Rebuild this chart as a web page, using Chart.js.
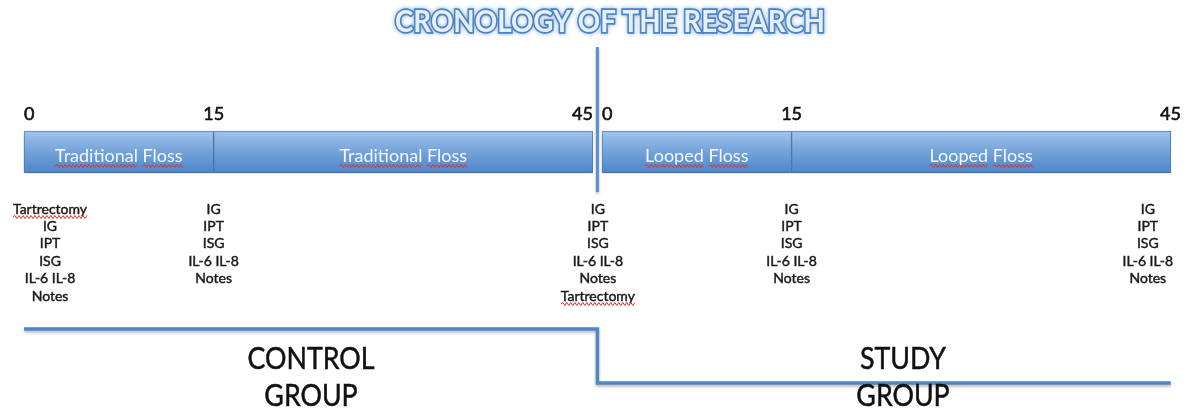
<!DOCTYPE html>
<html>
<head>
<meta charset="utf-8">
<title>Cronology of the research</title>
<script src="https://cdn.jsdelivr.net/npm/chart.js@4.4.1/dist/chart.umd.min.js"></script>
<style>
  html, body { margin: 0; padding: 0; background: #fff; }
  #wrap { width: 1187px; height: 412px; }
</style>
</head>
<body>
<div id="wrap"><canvas id="chronology" width="1187" height="412"></canvas></div>
<script>
// ---- data ----
const phaseStart = [0, 15];
const phaseEnd = [15, 45];
const controlPhases = ["Traditional Floss", "Traditional Floss"];
const studyPhases = ["Looped Floss", "Looped Floss"];
const tickDays = [0, 15, 45];
const controlChecks = [
    ["Tartrectomy", "IG", "IPT", "ISG", "IL-6 IL-8", "Notes"],
    ["IG", "IPT", "ISG", "IL-6 IL-8", "Notes"],
    ["IG", "IPT", "ISG", "IL-6 IL-8", "Notes", "Tartrectomy"],
];
const studyChecks = [
    [],
    ["IG", "IPT", "ISG", "IL-6 IL-8", "Notes"],
    ["IG", "IPT", "ISG", "IL-6 IL-8", "Notes"],
];
const groupNames = [["CONTROL", "GROUP"], ["STUDY", "GROUP"]];
const underlined = ["Traditional", "Floss", "Looped", "Tartrectomy"];
const title = "CRONOLOGY OF THE RESEARCH";

// ---- layout ----
const STUDY_SHIFT = 45.72;          // study timeline starts right after the divider
const DIV_X = (phaseEnd[1] + STUDY_SHIFT) / 2;
const BAR_Y = 152, BAR_H = 42;
const FONT = "Lato, 'Open Sans', sans-serif";
const checkNudge = [[26, 0, 5], [0, 0, -23]];   // px, keeps edge columns on the page
const tickNudge = [0, 10];
const groupX = [311, 903];

function phaseBars(names, shift) {
    return names.map((n, i) => ({ x: [phaseStart[i] + shift, phaseEnd[i] + shift], y: BAR_Y, label: n }));
}

function wavy(ctx, x0, x1, y) {
    ctx.save();
    ctx.strokeStyle = "#e0322b";
    ctx.lineWidth = 1;
    ctx.beginPath();
    ctx.moveTo(x0, y);
    let up = true;
    for (let x = x0 + 2; x <= x1; x += 2) {
        ctx.lineTo(x, y + (up ? -1.5 : 1.5));
        up = !up;
    }
    ctx.stroke();
    ctx.restore();
}

// slightly heavier text, like the mac rendering of the original
function heavyText(ctx, text, x, y, weight) {
    ctx.fillText(text, x, y);
    if (weight) {
        ctx.lineWidth = weight;
        ctx.strokeStyle = ctx.fillStyle;
        ctx.strokeText(text, x, y);
    }
}

// text with red squiggles under the flagged words
function spellText(ctx, text, cx, cy, weight, gap) {
    const w = ctx.measureText(text).width;
    ctx.textAlign = "left";
    heavyText(ctx, text, cx - w / 2, cy, weight);
    let x = cx - w / 2;
    text.split(" ").forEach((word) => {
        const ww = ctx.measureText(word).width;
        if (underlined.includes(word)) wavy(ctx, x, x + ww, cy + gap);
        x += ww + ctx.measureText(" ").width;
    });
}

function squeezed(ctx, text, cx, cy, sx) {
    ctx.save();
    ctx.translate(cx, cy);
    ctx.scale(sx, 1);
    ctx.textAlign = "center";
    heavyText(ctx, text, 0, 0, 0.5);
    ctx.restore();
}

const shadowPlugin = {
    id: "shadow",
    beforeDatasetDraw(chart) {
        const c = chart.ctx;
        c.save();
        c.shadowColor = "rgba(0,0,0,0.28)";
        c.shadowBlur = 3;
        c.shadowOffsetY = 2;
    },
    afterDatasetDraw(chart) {
        chart.ctx.restore();
    },
};

const textPlugin = {
    id: "texts",
    afterDatasetsDraw(chart) {
        const c = chart.ctx;
        const xs = chart.scales.x;
        c.save();
        c.textBaseline = "middle";

        // phase names inside the bars
        c.fillStyle = "#f4f8fd";
        c.font = "18px " + FONT;
        chart.getDatasetMeta(0).data.forEach((el, i) => {
            const raw = chart.data.datasets[0].data[i];
            spellText(c, raw.label, (el.x + el.base) / 2, el.y + 4, 0, 10);
        });

        // day ticks above the bars
        c.fillStyle = "#111";
        c.font = "18px " + FONT;
        [0, STUDY_SHIFT].forEach((shift, g) => {
            tickDays.forEach((d, i) => {
                const x = xs.getPixelForValue(d + shift);
                c.textAlign = i === 0 ? "left" : i === 1 ? "center" : "right";
                heavyText(c, String(d), x + (i === 2 ? tickNudge[g] : 0), 114, 0.6);
            });
        });

        // measurement lists
        c.fillStyle = "#1a1a1a";
        c.font = "14px " + FONT;
        [controlChecks, studyChecks].forEach((cols, g) => {
            const shift = g === 0 ? 0 : STUDY_SHIFT;
            cols.forEach((items, i) => {
                const x = xs.getPixelForValue(tickDays[i] + shift) + checkNudge[g][i];
                items.forEach((t, k) => spellText(c, t, x, 209 + k * 17.4, 0.45, 8));
            });
        });

        // group names
        c.fillStyle = "#111";
        c.font = "31px " + FONT;
        const sx = 127 / c.measureText("CONTROL").width;
        groupNames.forEach((rows, g) => {
            rows.forEach((t, k) => squeezed(c, t, groupX[g], 359 + k * 37, sx));
        });

        // title
        c.font = "bold 31px " + FONT;
        const tsx = 430 / c.measureText(title).width;
        c.save();
        c.translate(610, 22);
        c.scale(tsx, 1);
        c.textAlign = "center";
        c.shadowColor = "rgba(70,120,190,0.6)";
        c.shadowBlur = 4;
        c.lineWidth = 3.5;
        c.strokeStyle = "#4a84c6";
        c.strokeText(title, 0, 0);
        c.shadowBlur = 0;
        c.fillStyle = "#e6effa";
        c.fillText(title, 0, 0);
        c.restore();

        c.restore();
    },
};

function barFill(ctx) {
    const chart = ctx.chart;
    if (!chart.chartArea) return "#6f9fd9";
    const yp = chart.scales.y.getPixelForValue(BAR_Y);
    const g = chart.ctx.createLinearGradient(0, yp - BAR_H / 2, 0, yp + BAR_H / 2);
    g.addColorStop(0, "#a3c4ea");
    g.addColorStop(0.45, "#77a5dc");
    g.addColorStop(1, "#4c85c8");
    return g;
}

const chronoConfig = {
    type: "bar",
    data: {
        datasets: [
            {
                type: "bar",
                indexAxis: "y",
                data: [...phaseBars(controlPhases, 0), ...phaseBars(studyPhases, STUDY_SHIFT)],
                backgroundColor: barFill,
                borderColor: "#4f81bd",
                borderWidth: 1,
                borderSkipped: false,
                barThickness: BAR_H,
            },
            {
                type: "line",
                data: [{ x: DIV_X, y: 47 }, { x: DIV_X, y: 192 }],
                borderColor: "#5b8fd0",
                borderWidth: 3,
                pointRadius: 0,
            },
            {
                type: "line",
                data: [
                    { x: phaseStart[0], y: 329 },
                    { x: DIV_X, y: 329 },
                    { x: DIV_X, y: 383 },
                    { x: phaseEnd[1] + STUDY_SHIFT, y: 383 },
                ],
                borderColor: "#4f86c8",
                borderWidth: 3.5,
                pointRadius: 0,
            },
        ],
    },
    options: {
        responsive: false,
        animation: false,
        events: [],
        layout: { padding: 0 },
        plugins: {
            legend: { display: false },
            tooltip: { enabled: false },
        },
        scales: {
            x: { type: "linear", min: -1.9, max: 92.0, offset: false, grace: 0, display: false },
            y: { type: "linear", min: 0, max: 412, reverse: true, offset: false, grace: 0, display: false },
        },
    },
    plugins: [shadowPlugin, textPlugin],
};

document.fonts.load("16px Lato").then(() => {
    new Chart(document.getElementById("chronology"), chronoConfig);
});
</script>
</body>
</html>
